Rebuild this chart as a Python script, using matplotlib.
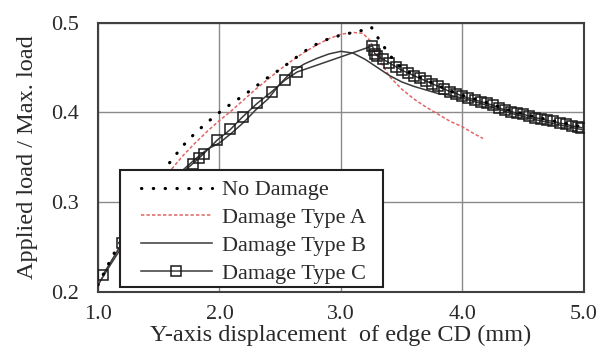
import matplotlib
matplotlib.use('Agg')
import matplotlib.pyplot as plt
from matplotlib.patches import Rectangle

# --- data ---
x_nd = [1.0, 1.1, 1.2, 1.3, 1.4, 1.5, 1.6, 1.7, 1.8, 1.9, 2.0, 2.1, 2.2, 2.3, 2.4, 2.5,
        2.6, 2.7, 2.8, 2.9, 3.0, 3.1, 3.2, 3.25, 3.3, 3.35, 3.4, 3.45, 3.5, 3.6, 3.7,
        3.8, 3.9, 4.0, 4.2, 4.4, 4.6, 4.8, 4.98]
y_nd = [0.208, 0.235, 0.260, 0.284, 0.306, 0.327, 0.346, 0.363, 0.377, 0.389, 0.400,
        0.410, 0.419, 0.429, 0.439, 0.448, 0.458, 0.468, 0.476, 0.482, 0.486, 0.489,
        0.492, 0.495, 0.484, 0.474, 0.464, 0.456, 0.449, 0.442, 0.436, 0.430, 0.424,
        0.419, 0.411, 0.402, 0.395, 0.389, 0.384]

x_a = [1.0, 1.1, 1.2, 1.3, 1.4, 1.5, 1.6, 1.7, 1.8, 1.9, 2.0, 2.1, 2.2, 2.3, 2.4, 2.5,
       2.6, 2.7, 2.8, 2.9, 3.0, 3.1, 3.18, 3.24, 3.3, 3.4, 3.5, 3.6, 3.7, 3.8, 3.9,
       4.0, 4.1, 4.17]
y_a = [0.208, 0.232, 0.255, 0.277, 0.298, 0.318, 0.336, 0.352, 0.366, 0.379, 0.391,
       0.402, 0.414, 0.426, 0.437, 0.448, 0.458, 0.467, 0.475, 0.482, 0.487, 0.489,
       0.488, 0.480, 0.462, 0.440, 0.426, 0.415, 0.406, 0.398, 0.390, 0.384, 0.376,
       0.371]

x_b = [1.0, 1.1, 1.2, 1.3, 1.4, 1.5, 1.6, 1.7, 1.8, 1.9, 2.0, 2.1, 2.2, 2.3, 2.4, 2.5,
       2.6, 2.7, 2.8, 2.9, 3.0, 3.1, 3.2, 3.3, 3.4, 3.5, 3.6, 3.7, 3.8, 3.9, 4.0,
       4.2, 4.4, 4.6, 4.8, 4.98]
y_b = [0.208, 0.230, 0.251, 0.271, 0.290, 0.307, 0.322, 0.336, 0.348, 0.359, 0.366,
       0.377, 0.389, 0.403, 0.415, 0.432, 0.446, 0.454, 0.460, 0.465, 0.468, 0.466,
       0.459, 0.450, 0.441, 0.434, 0.429, 0.425, 0.421, 0.419, 0.416, 0.408, 0.399,
       0.392, 0.386, 0.381]

x_c = [1.04, 1.2, 1.35, 1.5, 1.65, 1.78, 1.83, 1.87, 1.98, 2.09, 2.19, 2.31, 2.43,
       2.54, 2.64, 3.26, 3.27, 3.28, 3.30, 3.35, 3.40, 3.45, 3.50, 3.55, 3.60, 3.65,
       3.70, 3.75, 3.80, 3.85, 3.90, 3.95, 4.00, 4.05, 4.10, 4.15, 4.20, 4.25, 4.30,
       4.35, 4.40, 4.45, 4.50, 4.55, 4.60, 4.65, 4.70, 4.75, 4.80, 4.85, 4.90, 4.95,
       4.98]
y_c = [0.219, 0.255, 0.284, 0.308, 0.328, 0.343, 0.349, 0.354, 0.369, 0.381, 0.395,
       0.410, 0.423, 0.436, 0.445, 0.474, 0.469, 0.465, 0.463, 0.459, 0.455, 0.451,
       0.447, 0.444, 0.441, 0.438, 0.435, 0.432, 0.429, 0.426, 0.423, 0.421, 0.418,
       0.416, 0.414, 0.412, 0.410, 0.408, 0.405, 0.403, 0.401, 0.399, 0.398, 0.396,
       0.394, 0.393, 0.391, 0.390, 0.388, 0.387, 0.385, 0.384, 0.383]

labels = ['No Damage', 'Damage Type A', 'Damage Type B', 'Damage Type C']
xticks = [1.0, 2.0, 3.0, 4.0, 5.0]
yticks = [0.2, 0.3, 0.4, 0.5]

plt.rcParams['font.family'] = ['Liberation Serif', 'DejaVu Serif']
txt = '#2a2a2a'

fig = plt.figure(figsize=(6.05, 3.58), dpi=100)
ax = fig.add_axes([0.162, 0.184, 0.803, 0.753])

ax.plot(x_nd, y_nd, color='black', lw=2.3, linestyle=(0, (0.1, 3.6)),
        dash_capstyle='round', label=labels[0], zorder=4)
ax.plot(x_a, y_a, color='#e06565', lw=1.1, linestyle=(0, (2.2, 1.4)),
        label=labels[1], zorder=3)
ax.plot(x_b, y_b, color='#3a3a3a', lw=1.1, label=labels[2], zorder=3)
ax.plot(x_c, y_c, color='#3a3a3a', lw=1.1, marker='s', ms=6.5,
        mfc='none', mec='#1a1a1a', mew=1.1, label=labels[3], zorder=3)

ax.set_xlim(1.0, 5.0)
ax.set_ylim(0.2, 0.5)
ax.set_xticks(xticks)
ax.set_yticks(yticks)
ax.set_xticklabels(['%.1f' % v for v in xticks])
ax.set_yticklabels(['%.1f' % v for v in yticks])
ax.tick_params(length=0, labelsize=16, colors=txt)
ax.tick_params(axis='x', pad=9)
ax.tick_params(axis='y', pad=14)
ax.grid(True, color='#8a8a8a', lw=1.0)
ax.set_axisbelow(True)
for s in ax.spines.values():
    s.set_color('#404040')
    s.set_linewidth(1.5)

ax.set_xlabel('Y-axis displacement  of edge CD (mm)', fontsize=17.5, color=txt, labelpad=1)
ax.set_ylabel('Applied load / Max. load', fontsize=17.5, color=txt, labelpad=9)

# legend box (white, square corners) with the entries laid inside it
ax.add_patch(Rectangle((0.045, 0.019), 0.541, 0.434, transform=ax.transAxes,
                       facecolor='white', edgecolor='#202020', lw=1.5, zorder=5))
leg = ax.legend(loc='lower left', bbox_to_anchor=(0.088, 0.03), borderaxespad=0,
                fontsize=16, frameon=False, handlelength=3.2, handletextpad=0.45,
                labelspacing=0.33, borderpad=0)
leg.set_zorder(6)
for t in leg.get_texts():
    t.set_color(txt)

fig.savefig('out.png', dpi=100)
